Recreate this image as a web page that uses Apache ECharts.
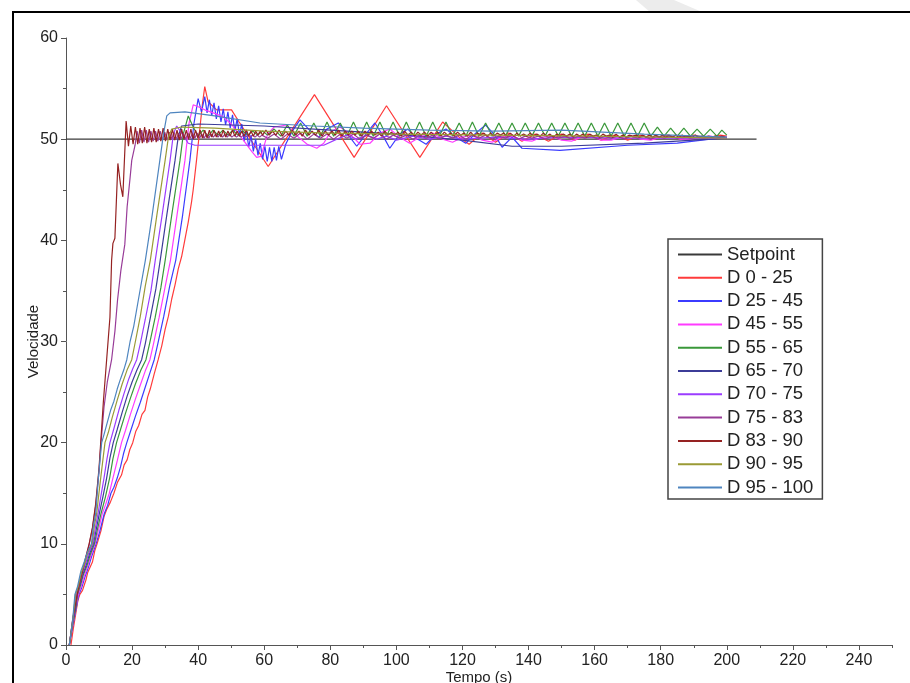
<!DOCTYPE html>
<html>
<head>
<meta charset="utf-8">
<title>Velocidade x Tempo</title>
<script src="https://cdn.jsdelivr.net/npm/echarts@6/dist/echarts.min.js"></script>
<style>
    html, body { margin: 0; padding: 0; background: #fff; }
    #chart { width: 910px; height: 683px; }
</style>
</head>
<body>
<div id="chart"></div>
<script>
const FONT = '"Liberation Sans", Arial, sans-serif';

const seriesNames = ['Setpoint', 'D 0 - 25', 'D 25 - 45', 'D 45 - 55', 'D 55 - 65', 'D 65 - 70',
    'D 70 - 75', 'D 75 - 83', 'D 83 - 90', 'D 90 - 95', 'D 95 - 100'];
const seriesColors = ['#3a3a3a', '#ff3b3b', '#3b3bff', '#ff3bff', '#3a983a', '#3c3c98',
    '#9b3cff', '#983c98', '#952222', '#9a9a35', '#4e85bf'];

const xTicks = [0, 20, 40, 60, 80, 100, 120, 140, 160, 180, 200, 220, 240];

// [tempo, velocidade]
const setpoint = [[0, 50], [209, 50]];

const d0_25 = [[1.5, 0], [2.2, 1.6], [3, 3.2], [3.6, 4.4], [4.2, 5], [5, 5.4], [6, 6.4], [6.6, 7.2], [7, 7.3],
    [8, 8.2], [8.7, 9.3], [9.4, 10], [10.6, 11.3], [11.5, 12.7], [12.3, 13.4], [13.4, 14.1], [14.5, 15],
    [15.6, 16.1], [16.8, 16.8], [17.6, 17.8], [18.5, 18.3], [19.3, 19.3], [20.2, 20], [21.1, 21.1], [22, 21.7],
    [23, 22.8], [23.9, 23.2], [24.7, 24.5], [25.5, 25.3], [26.7, 26.8], [27.9, 28.2], [29, 29.6], [30, 31.2],
    [31, 32.5], [32, 34.2], [33, 35.6], [34, 37.2], [35, 38.4], [36, 40.1], [37, 41.8], [38, 43.8], [38.5, 45],
    [39.5, 47.9], [40.5, 51], [41.3, 53.5], [42, 55.2], [43, 53.7], [45.6, 52.9], [50.1, 52.9], [52.4, 51.7],
    [61.2, 47.3], [75.2, 54.4], [87.2, 48.2], [97, 53.3], [107.1, 48.2], [114, 51.7], [119, 50.2], [122, 49.5],
    [126, 50.6], [130, 49.7], [134, 50.6], [138, 49.8], [142, 50.5], [146, 49.8], [150, 50.5], [154, 49.9],
    [158, 50.5], [162, 49.9], [166, 50.4], [170, 49.9], [174, 50.4], [178, 50.0], [182, 50.4], [186, 50.0],
    [190, 50.4], [194, 50.1], [198, 50.4], [200, 50.3]];

const d25_45 = [[1, 0], [2, 1.8], [3, 3.5], [3.9, 5], [4.7, 5.6], [5.7, 6.7], [6.7, 7.6], [7.7, 8.7], [9.1, 10],
    [10.2, 11.2], [11.6, 13], [12.6, 13.8], [13.6, 15], [14.5, 15.6], [15.5, 16.5], [16.5, 17.6], [17.4, 18.9],
    [18.4, 20], [19.6, 21.2], [21, 22.6], [22.5, 24], [24, 25.5], [25.4, 26.9], [26.7, 28.2], [27.8, 29.8],
    [29.6, 32.5], [31.4, 35.5], [33.2, 38], [35.3, 42.5], [37.5, 47.9], [38.7, 51.5], [40, 54], [41, 52.7],
    [42, 54.2], [42.7, 52.6], [43.4, 53.9], [44.1, 52.3], [44.8, 53.6], [45.5, 52], [46.2, 53.3], [46.9, 51.7],
    [47.6, 53], [48.3, 51.4], [49, 52.7], [49.7, 51.1], [50.4, 52.4], [51.1, 50.8], [51.8, 52], [52.5, 50.4],
    [53.2, 51.5], [53.9, 49.8], [54.6, 50.9], [55.3, 49.2], [56, 50.4], [56.7, 48.8], [57.4, 50], [58.1, 48.4],
    [58.8, 49.6], [59.5, 48], [60.2, 49.3], [60.9, 47.8], [61.6, 49.2], [62.3, 47.8], [63, 49.2], [63.7, 47.9],
    [64.4, 49.3], [65.2, 48], [66.5, 49.5], [68.5, 50.8], [70.8, 51.9], [74, 50.8], [76.5, 50.2], [79, 51],
    [82.4, 51.6], [85, 50.6], [88, 49.3], [91, 50.6], [93.5, 51.6], [96, 50.3], [98, 49.1], [101, 50.5],
    [103.5, 51], [106, 50.1], [109, 49.5], [112, 50.5], [115, 51], [118, 50.2], [121, 49.6], [124, 50.6],
    [127, 51.4], [130, 50.3], [132, 49.2], [135, 50.2], [138, 49.1], [149.5, 48.9], [170, 49.4], [185, 49.6],
    [200, 50.2]];

const d45_55 = [[1, 0], [2, 1.9], [3, 3.6], [3.7, 5], [4.5, 5.7], [5.5, 6.8], [6.5, 7.7], [7.5, 8.8], [8.8, 10],
    [9.8, 11.3], [11, 13], [12, 13.9], [13.1, 15], [14.2, 16.5], [15.5, 18.2], [16.8, 20], [18, 21.2],
    [19.5, 22.8], [21, 24.3], [22.5, 25.7], [24, 27.1], [25.4, 28.2], [26.5, 29.8], [28.2, 32.4], [30, 35.4],
    [31.6, 38], [33.6, 42.5], [36, 47.9], [37.2, 51.5], [38.5, 53.4], [40, 53.2], [42, 52.9], [44.6, 52.6],
    [47.6, 52.2], [50, 51.5], [53, 50.2], [56.2, 48.8], [57.7, 48.2], [59, 48.3], [61, 50.5], [63, 51.2],
    [66.8, 51.4], [70, 50.3], [73, 49.5], [75.9, 49.1], [78, 49.6], [80, 50.7], [82.9, 51.2], [86, 50.5],
    [89, 49.5], [92, 49.6], [95, 50.6], [98, 51], [101, 50.2], [104, 49.6], [107, 50.2], [111, 50.6],
    [114, 50.0], [117, 49.7], [120, 50.2], [123, 50.4], [126, 49.9], [129, 49.7], [132, 50.2], [135, 50.3],
    [138, 49.9], [141, 49.8], [144, 50.2], [147, 50.3], [150, 49.9], [153, 49.8], [156, 50.2], [159, 50.3],
    [162, 49.9], [165, 49.9], [168, 50.2], [171, 50.3], [174, 50.0], [177, 49.9], [180, 50.2], [183, 50.3],
    [186, 50.0], [189, 50.0], [192, 50.2], [195, 50.3], [198, 50.1], [200, 50.2]];

const d55_65 = [[1, 0], [2, 2], [3, 3.7], [3.5, 5], [4.3, 5.8], [5.3, 7], [6.3, 7.8], [7.3, 8.9], [8.6, 10],
    [9.5, 11.4], [10.6, 13], [11.9, 14.6], [13.2, 16.5], [14.2, 18.4], [15.3, 20], [16.5, 21.3], [18, 22.9],
    [19.5, 24.4], [21, 25.8], [22.7, 27.2], [24.2, 28.2], [25.3, 29.8], [27, 32.4], [28.7, 35.3], [30, 38],
    [32, 42.5], [34.5, 47.9], [35.5, 50.5], [37, 52.3], [38.5, 51.2], [40, 50.3], [41.5, 50.9], [43, 50.3],
    [44.5, 50.9], [46, 50.4], [47.5, 50.9], [49, 50.4], [50.5, 50.9], [52, 50.4], [53.5, 50.8], [55, 50.4],
    [56.5, 50.8], [58, 50.4], [59.5, 50.8], [61, 50.4], [63, 51.0], [65, 50.3], [67, 51.4], [69, 50.3],
    [71, 51.6], [73, 50.3], [75, 51.6], [77, 50.3], [79, 51.7], [81, 50.3], [83, 51.6], [85, 50.3], [87, 51.7],
    [89, 50.3], [91, 51.7], [93, 50.3], [95, 51.7], [97, 50.3], [99, 51.7], [101, 50.3], [103, 51.7],
    [105, 50.3], [107, 51.7], [109, 50.3], [111, 51.7], [113, 50.3], [115, 51.7], [117, 50.3], [119, 51.6],
    [121, 50.3], [123, 51.7], [125, 50.3], [127, 51.6], [129, 50.3], [131, 51.6], [133, 50.3], [135, 51.6],
    [137, 50.3], [139, 51.6], [141, 50.3], [143, 51.6], [145, 50.3], [147, 51.6], [149, 50.3], [151, 51.6],
    [153, 50.3], [155, 51.6], [157, 50.3], [159, 51.6], [161, 50.3], [163, 51.6], [165, 50.3], [167, 51.6],
    [169, 50.3], [171, 51.6], [173, 50.3], [175, 51.6], [177, 50.3], [179, 51.2], [181, 50.3], [183, 51.1],
    [185, 50.3], [187, 51.1], [189, 50.3], [191, 51.0], [193, 50.3], [195, 51.0], [197, 50.3], [198.5, 50.9],
    [200, 50.4]];

const d65_70 = [[1, 0], [2, 2.1], [3, 3.8], [3.3, 5], [4.1, 5.8], [5.1, 7], [6.1, 7.9], [7.1, 9], [8.3, 10],
    [9.2, 11.5], [10.1, 13], [11.2, 14.7], [12.3, 16.5], [13.3, 18.5], [14.3, 20], [15.5, 21.3], [17, 23],
    [18.5, 24.6], [20, 26], [21.5, 27.2], [22.9, 28.2], [24, 29.8], [25.5, 32.3], [27.2, 35.2], [28.5, 38],
    [30.5, 42.5], [33, 47.9], [34, 50.3], [35, 51.3], [40, 51.5], [60, 51.3], [80, 50.9], [100, 50.5],
    [120, 49.9], [135, 49.3], [150, 49.3], [175, 49.6], [200, 50.1]];

const d70_75 = [[1, 0], [2, 2.2], [3.1, 5], [3.9, 5.9], [4.9, 7.1], [5.9, 8], [6.9, 9.1], [8.1, 10], [8.9, 11.6],
    [9.7, 13], [10.6, 14.8], [11.5, 16.5], [12.4, 18.4], [13.3, 20], [14.5, 21.4], [16, 23.2], [17.5, 24.8],
    [19, 26.3], [20.2, 27.3], [21.4, 28.2], [22.5, 29.8], [24, 32.2], [25.7, 35], [27, 38], [29, 42.3],
    [31.5, 47.9], [32.5, 50.5], [33.5, 51.3], [35, 50.6], [37, 49.6], [39, 49.4], [60, 49.4], [78, 49.4],
    [82, 50], [85, 50.4], [88, 50.0], [91, 50.4], [94, 50.0], [97, 50.3], [100, 49.9], [105, 50.3], [110, 50.0],
    [115, 50.3], [120, 50.0], [130, 50.2], [140, 50.0], [150, 50.2], [170, 50.1], [200, 50.1]];

const d75_83Rise = [[1, 0], [2, 2.4], [3, 4.2], [4, 5.9], [5, 7.2], [6, 8.6], [7, 9.9], [8, 11.5], [9, 13.8],
    [10, 17.2], [10.6, 20], [11.5, 23.5], [12.5, 26], [13.8, 28.2], [14.8, 31], [15.6, 34.1], [16.6, 37],
    [17.8, 39.6], [18.5, 43.3], [19.4, 46.2], [19.9, 47.9], [20.9, 49.4], [21.5, 50.8]];
// oscilação amostrada a cada 0.7 s a partir de 22.2 s
const d75_83Osc = [49.6, 50.9, 49.7, 50.9, 49.7, 50.8, 49.8, 50.8, 49.8, 50.8, 49.9, 50.7, 49.9, 50.7, 50.0,
    50.7, 50.0, 50.6, 50.0, 50.6, 50.0, 50.6, 50.1, 50.6, 50.1, 50.6, 50.1, 50.5, 50.1, 50.5, 50.1, 50.5, 50.2,
    50.5, 50.2, 50.5, 50.2, 50.5, 50.2, 50.5, 50.2, 50.4, 50.2, 50.4, 50.2, 50.4, 50.2, 50.4, 50.2, 50.4, 50.2,
    50.4, 50.2, 50.4];
// a cada 2 s a partir de 61 s
const d75_83Tail = [50.1, 50.5, 50.0, 50.5, 50.1, 50.6, 50.0, 50.5, 50.1, 50.5, 50.0, 50.5, 50.1, 50.5, 50.0,
    50.4, 50.1, 50.5, 50.0, 50.4, 50.1, 50.4, 50.0, 50.4, 50.1, 50.4, 50.0, 50.4, 50.1, 50.4, 50.0, 50.4, 50.1,
    50.4, 50.0, 50.3, 50.1, 50.4, 50.0, 50.3, 50.1, 50.3, 50.0, 50.3, 50.1, 50.3, 50.0, 50.3, 50.1, 50.3, 50.0,
    50.3, 50.1, 50.3, 50.0, 50.3, 50.1, 50.3, 50.0, 50.3, 50.1, 50.3, 50.1, 50.3, 50.1, 50.2, 50.1, 50.2, 50.1,
    50.2];

const d83_90Rise = [[1, 0], [2, 2.5], [3, 4.3], [4, 6], [5, 7.3], [6, 8.7], [7, 10], [8, 11.6], [9, 14],
    [10, 17.5], [10.5, 20], [11.3, 24], [12.3, 28.2], [13.3, 32.4], [13.8, 38], [14.2, 39.7], [14.8, 40.2],
    [15.7, 47.6], [16.5, 45.5], [17.2, 44.3]];
// a cada 0.7 s a partir de 18.2 s
const d83_90Osc = [51.8, 49.3, 51.3, 49.5, 51.2, 49.5, 51.1, 49.6, 51.2, 49.6, 51.0, 49.7, 51.1, 49.7, 51.0,
    49.8, 51.1, 49.8, 51.0, 49.9, 51.0, 49.9, 50.9, 49.9, 51.0, 50.0, 50.9, 50.0, 51.0, 50.0, 50.9, 50.1, 50.9,
    50.1, 50.9, 50.1, 50.9, 50.2, 50.9, 50.2, 50.8, 50.2, 50.9, 50.2, 50.8, 50.3, 50.9, 50.3, 50.8, 50.3, 50.8,
    50.3, 50.9, 50.3, 50.8, 50.3, 50.8, 50.4, 50.8, 50.4];
// a cada 1 s a partir de 60.5 s
const d83_90Tail = [50.9, 50.4, 50.8, 50.4, 50.9, 50.3, 50.8, 50.4, 50.9, 50.4, 50.8, 50.3, 50.9, 50.4, 50.8,
    50.4, 50.9, 50.3, 50.8, 50.4, 50.8, 50.4, 50.9, 50.3, 50.8, 50.4, 50.8, 50.4, 50.8, 50.3, 50.8, 50.4, 50.8,
    50.4, 50.7, 50.3, 50.8, 50.4, 50.7, 50.4,
    50.7, 50.3, 50.8, 50.4, 50.7, 50.3, 50.7, 50.4, 50.7, 50.3, 50.7, 50.4, 50.7, 50.3, 50.7, 50.4, 50.6, 50.3,
    50.7, 50.4, 50.6, 50.3, 50.7, 50.3, 50.6, 50.4, 50.6, 50.3, 50.6, 50.3, 50.6, 50.4, 50.6, 50.3, 50.6, 50.3,
    50.6, 50.3, 50.5, 50.3,
    50.6, 50.3, 50.5, 50.3, 50.6, 50.3, 50.5, 50.2, 50.5, 50.3, 50.5, 50.3, 50.5, 50.2, 50.5, 50.3, 50.5, 50.2,
    50.5, 50.3, 50.4, 50.2, 50.5, 50.3, 50.4, 50.2, 50.5, 50.2, 50.4, 50.2, 50.4, 50.3, 50.4, 50.2, 50.4, 50.2,
    50.4, 50.2, 50.4, 50.2,
    50.4, 50.2, 50.4, 50.2, 50.4, 50.2, 50.4, 50.2, 50.3, 50.2, 50.4, 50.2, 50.3, 50.2, 50.3, 50.2, 50.3, 50.2,
    50.3, 50.2];

const d90_95 = [[1, 0], [2, 2.3], [2.9, 5], [3.7, 5.8], [4.7, 7.2], [5.7, 8.1], [6.7, 9.2], [7.9, 10],
    [8.6, 11.8], [9.3, 13], [9.9, 14.8], [10.5, 16.5], [11.2, 18.4], [11.8, 20], [12.8, 21], [14, 22.5],
    [15.5, 24.2], [17, 25.8], [18.5, 27.2], [19.9, 28.2], [21, 30], [22.5, 32.5], [24, 35.5], [25.5, 38],
    [27.5, 42.5], [30, 47.9], [31, 50.2], [32, 51], [35, 51.2], [45, 51.1], [60, 50.8], [80, 50.6], [100, 50.5],
    [130, 50.4], [160, 50.3], [200, 50.1]];

const d95_100 = [[1, 0], [2, 2.4], [2.7, 5], [3.5, 5.8], [4.5, 7.3], [5.5, 8.2], [6.5, 9.2], [7.7, 10],
    [8.3, 11.8], [9, 13], [9.4, 14.8], [9.8, 16.5], [10.3, 18.3], [10.8, 20], [11.5, 20.8], [12.5, 22],
    [13.5, 23.2], [14.5, 24.1], [15.5, 25.3], [16.5, 26.3], [17.5, 27.2], [18.4, 28.2], [19.4, 30], [20.5, 31.5],
    [22, 34.3], [24, 38], [26, 42.3], [28.4, 47.9], [29.5, 50.5], [30.5, 52.3], [31.5, 52.6], [36, 52.7],
    [45, 52.3], [58.7, 51.6], [75, 51.3], [90, 51.1], [110, 50.9], [129, 50.8], [150, 50.9], [175, 50.5],
    [200, 50.2]];

function sampled(t0, dt, values) {
    return values.map(function (v, i) {
        return [+(t0 + i * dt).toFixed(2), v];
    });
}

const d75_83 = d75_83Rise.concat(sampled(22.2, 0.7, d75_83Osc), sampled(61, 2, d75_83Tail));
const d83_90 = d83_90Rise.concat(sampled(18.2, 0.7, d83_90Osc), sampled(60.5, 1, d83_90Tail));

const seriesData = [setpoint, d0_25, d25_45, d45_55, d55_65, d65_70, d70_75, d75_83, d83_90, d90_95, d95_100];

let chart = echarts.init(document.getElementById('chart'), null, {renderer: 'canvas'});

let axisText = {color: '#222', fontSize: 16, fontFamily: FONT};

let option = {
    backgroundColor: '#fff',
    animation: false,
    textStyle: {fontFamily: FONT},
    grid: {left: 66, top: 38, right: 18, bottom: 38, containLabel: false, outerBoundsMode: 'none'},
    graphic: [
        {
            type: 'polygon',
            silent: true,
            shape: {points: [[636, 0], [674, 0], [702, 12], [650, 12]]},
            style: {fill: '#ececec'}
        },
        {
            type: 'polyline',
            silent: true,
            shape: {points: [[13, 683], [13, 12], [910, 12]]},
            style: {stroke: '#000', lineWidth: 2, fill: null}
        }
    ],
    legend: {
        orient: 'vertical',
        left: 668,
        top: 239,
        padding: [6, 9, 2, 9],
        itemGap: 4.3,
        itemWidth: 44,
        itemHeight: 14,
        itemTextGap: 5,
        backgroundColor: '#fff',
        borderColor: '#444',
        borderWidth: 1.5,
        borderRadius: 0,
        itemStyle: {opacity: 0},
        lineStyle: {width: 2},
        textStyle: {color: '#222', fontSize: 18.5, lineHeight: 19, fontFamily: FONT},
        data: seriesNames
    },
    xAxis: [
        {
            type: 'value',
            min: 0,
            max: 250,
            interval: 20,
            name: 'Tempo (s)',
            nameLocation: 'middle',
            nameGap: 25,
            nameMoveOverlap: false,
            nameTextStyle: {color: '#222', fontSize: 15, fontFamily: FONT},
            axisLine: {onZero: false, lineStyle: {color: '#555', width: 1}},
            axisTick: {show: true, length: 5, customValues: xTicks, lineStyle: {color: '#555'}},
            axisLabel: Object.assign({margin: 8, customValues: xTicks, formatter: function (v) {
                return v % 20 === 0 ? String(v) : '';
            }}, axisText),
            splitLine: {show: false}
        },
        {
            type: 'value',
            position: 'bottom',
            min: 0,
            max: 250,
            interval: 10,
            axisLine: {show: false},
            axisTick: {show: true, length: 3, lineStyle: {color: '#555'}},
            axisLabel: {show: false},
            splitLine: {show: false}
        }
    ],
    yAxis: {
        type: 'value',
        min: 0,
        max: 60,
        interval: 10,
        name: 'Velocidade',
        nameLocation: 'middle',
        nameGap: 25,
        nameMoveOverlap: false,
        nameTextStyle: {color: '#222', fontSize: 15, fontFamily: FONT},
        axisLine: {show: true, onZero: false, lineStyle: {color: '#555', width: 1}},
        axisTick: {show: true, length: 5, lineStyle: {color: '#555'}},
        minorTick: {show: true, splitNumber: 2, length: 3, lineStyle: {color: '#555'}},
        axisLabel: Object.assign({margin: 8}, axisText),
        splitLine: {show: false}
    },
    series: seriesNames.map(function (name, i) {
        return {
            name: name,
            type: 'line',
            xAxisIndex: 0,
            data: seriesData[i],
            showSymbol: false,
            symbol: 'none',
            color: seriesColors[i],
            lineStyle: {color: seriesColors[i], width: i === 0 ? 1.3 : 1.2},
            z: 2 + i
        };
    })
};

chart.setOption(option);
</script>
</body>
</html>
